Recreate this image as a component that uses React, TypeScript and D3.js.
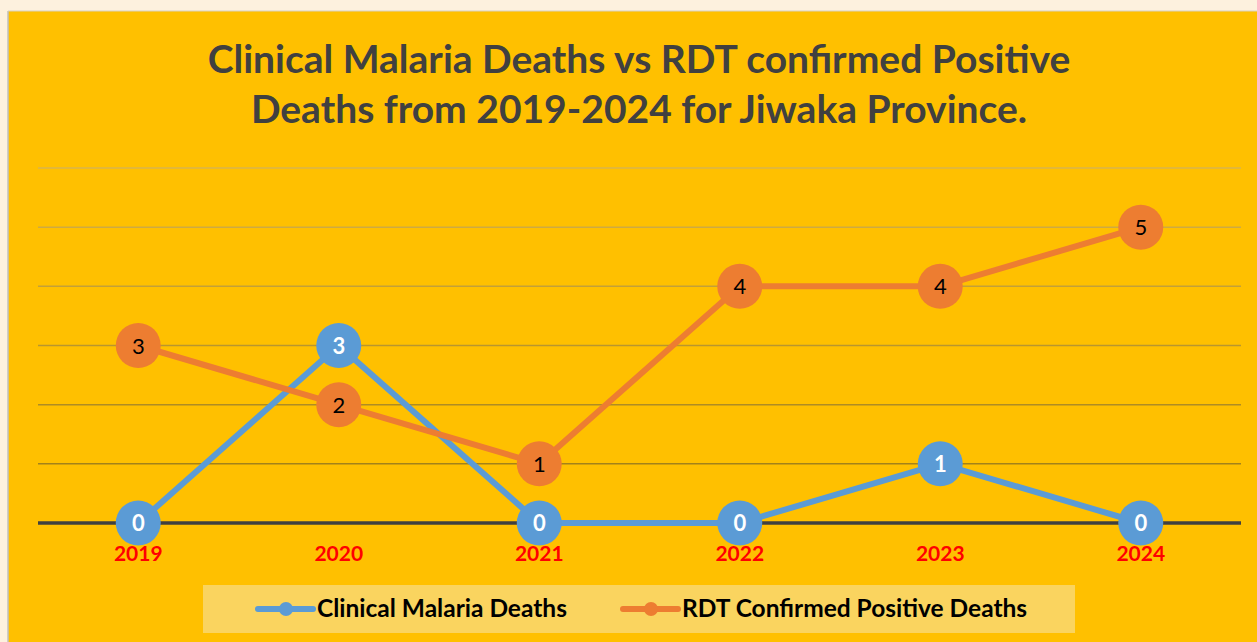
import React from "react";
import * as d3 from "d3";

const years = ["2019", "2020", "2021", "2022", "2023", "2024"];
const clinicalDeaths = [0, 3, 0, 0, 1, 0];
const rdtDeaths = [3, 2, 1, 4, 4, 5];
const yTicks = [0, 1, 2, 3, 4, 5, 6];
const titleLines = [
  "Clinical Malaria Deaths vs RDT confirmed Positive",
  "Deaths from 2019-2024 for Jiwaka Province.",
];
const seriesNames = ["Clinical Malaria Deaths", "RDT Confirmed Positive Deaths"];

const W = 1257;
const H = 642;
const BLUE = "#5B9BD5";
const ORANGE = "#ED7D31";
const FONT = "Lato, 'Open Sans', sans-serif";

export default function App() {
  const x = d3.scaleBand<string>().domain(years).range([38, 1241]);
  const y = d3.scaleLinear().domain([0, 6]).range([523, 168]);
  const cx = (yr: string) => (x(yr) as number) + x.bandwidth() / 2;

  const line = d3
    .line<number>()
    .x((_, i) => cx(years[i]))
    .y((d) => y(d));

  // gridlines go from light (top) to darker (bottom)
  const gridColor = d3.scaleLinear<string>().domain([6, 1]).range(["#D9B44C", "#A3821A"]);

  const series = [
    { name: seriesNames[0], values: clinicalDeaths, color: BLUE, label: "#fff", weight: 700 },
    { name: seriesNames[1], values: rdtDeaths, color: ORANGE, label: "#000", weight: 400 },
  ];

  return (
    <svg
      width={W}
      height={H}
      style={{ position: "fixed", left: 0, top: 0, display: "block" }}
      fontFamily={FONT}
    >
      <rect width={W} height={H} fill="#FDF1DE" />
      <rect x={8} y={11} width={W - 8} height={H - 11} fill="#FFC000" />
      <line x1={8} x2={8} y1={11} y2={H} stroke="#BFBFBF" strokeWidth={1.5} />
      <line x1={8} x2={W} y1={11} y2={11} stroke="#D9D0C0" strokeWidth={1} />

      {titleLines.map((t, i) => (
        <text
          key={i}
          x={639}
          y={73 + i * 50}
          textAnchor="middle"
          fontSize={39}
          fontWeight={700}
          fill="#404040"
        >
          {t}
        </text>
      ))}

      {yTicks
        .filter((v) => v > 0)
        .map((v) => (
          <line
            key={v}
            x1={38}
            x2={1241}
            y1={y(v)}
            y2={y(v)}
            stroke={gridColor(v)}
            strokeWidth={1.5}
          />
        ))}
      <line x1={38} x2={1241} y1={y(0)} y2={y(0)} stroke="#404040" strokeWidth={3.5} />

      {years.map((yr) => (
        <text
          key={yr}
          x={cx(yr)}
          y={561}
          textAnchor="middle"
          fontSize={21}
          fontWeight={700}
          fill="#FF0000"
        >
          {yr}
        </text>
      ))}

      {series.map((s) => (
        <path
          key={s.name}
          d={line(s.values) || ""}
          fill="none"
          stroke={s.color}
          strokeWidth={6}
          strokeLinejoin="round"
        />
      ))}
      {series.map((s) =>
        s.values.map((v, i) => (
          <g key={s.name + i} transform={`translate(${cx(years[i])},${y(v)})`}>
            <circle r={22.5} fill={s.color} />
            <text
              y={8}
              textAnchor="middle"
              fontSize={22}
              fontWeight={s.weight}
              fill={s.label}
            >
              {v}
            </text>
          </g>
        ))
      )}

      <rect x={203} y={585} width={872} height={48} fill="#FAD45F" />
      {series.map((s, i) => {
        const lx = i === 0 ? 258 : 623;
        return (
          <g key={s.name}>
            <line
              x1={lx}
              x2={lx + 55}
              y1={609}
              y2={609}
              stroke={s.color}
              strokeWidth={6}
              strokeLinecap="round"
            />
            <circle cx={lx + 28} cy={609} r={7} fill={s.color} />
            <text x={lx + 59} y={617} fontSize={24.5} fontWeight={700} fill="#000">
              {s.name}
            </text>
          </g>
        );
      })}
    </svg>
  );
}
